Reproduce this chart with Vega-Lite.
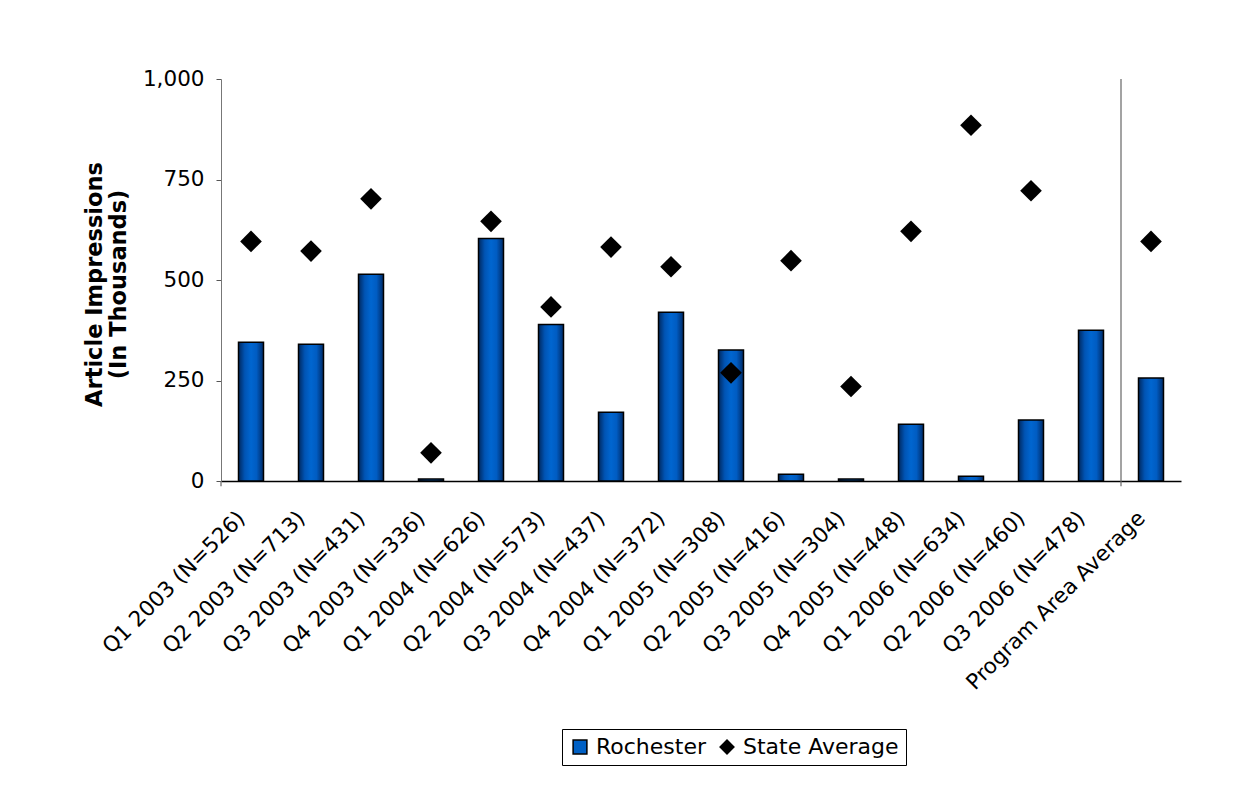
{
  "$schema": "https://vega.github.io/schema/vega-lite/v6.json",
  "width": 960,
  "height": 402,
  "autosize": {"type": "none"},
  "padding": {"left": 221, "top": 79, "right": 63, "bottom": 328},
  "background": "white",
  "config": {
    "font": "DejaVu Sans",
    "view": {"stroke": null},
    "axis": {"labelColor": "black", "titleColor": "black", "grid": false}
  },
  "layer": [
    {
      "data": {
        "values": [
          {"cat": "Q1 2003 (N=526)", "Rochester": 345, "State Average": 596},
          {"cat": "Q2 2003 (N=713)", "Rochester": 340, "State Average": 572},
          {"cat": "Q3 2003 (N=431)", "Rochester": 514, "State Average": 702},
          {"cat": "Q4 2003 (N=336)", "Rochester": 5, "State Average": 70},
          {"cat": "Q1 2004 (N=626)", "Rochester": 603, "State Average": 646},
          {"cat": "Q2 2004 (N=573)", "Rochester": 389, "State Average": 433},
          {"cat": "Q3 2004 (N=437)", "Rochester": 171, "State Average": 582},
          {"cat": "Q4 2004 (N=372)", "Rochester": 420, "State Average": 533},
          {"cat": "Q1 2005 (N=308)", "Rochester": 326, "State Average": 269},
          {"cat": "Q2 2005 (N=416)", "Rochester": 17, "State Average": 548},
          {"cat": "Q3 2005 (N=304)", "Rochester": 5, "State Average": 235},
          {"cat": "Q4 2005 (N=448)", "Rochester": 141, "State Average": 621},
          {"cat": "Q1 2006 (N=634)", "Rochester": 12, "State Average": 885},
          {"cat": "Q2 2006 (N=460)", "Rochester": 152, "State Average": 722},
          {"cat": "Q3 2006 (N=478)", "Rochester": 375, "State Average": null},
          {"cat": "Program Area Average", "Rochester": 256, "State Average": 596}
        ]
      },
      "transform": [{"fold": ["Rochester", "State Average"]}],
      "layer": [
        {
          "transform": [{"filter": "datum.key == 'Rochester'"}],
          "mark": {
            "type": "bar",
            "stroke": "black",
            "strokeWidth": 1.5,
            "color": {
              "x1": 0, "y1": 0, "x2": 1, "y2": 0,
              "gradient": "linear",
              "stops": [
                {"offset": 0, "color": "#00285e"},
                {"offset": 0.25, "color": "#0054b4"},
                {"offset": 0.5, "color": "#0066d0"},
                {"offset": 0.72, "color": "#005cc2"},
                {"offset": 1, "color": "#002a66"}
              ]
            }
          },
          "encoding": {
            "x": {
              "field": "cat",
              "type": "nominal",
              "sort": null,
              "scale": {"paddingInner": 0.5833, "paddingOuter": 0.2917},
              "axis": {
                "title": null,
                "labelAngle": -45,
                "labelAlign": "right",
                "labelBaseline": "middle",
                "labelFontSize": 21.5,
                "labelPadding": 34,
                "labelOffset": -9,
                "labelLimit": 0,
                "ticks": false,
                "domainColor": "black",
                "domainWidth": 1.5
              }
            },
            "y": {
              "field": "value",
              "type": "quantitative",
              "scale": {"domain": [0, 1000], "nice": false},
              "axis": {
                "title": ["Article Impressions", "(In Thousands)"],
                "values": [0, 250, 500, 750, 1000],
                "format": ",d",
                "labelFontSize": 21.5,
                "labelPadding": 12,
                "tickSize": 5,
                "tickColor": "#555",
                "domainColor": "#777",
                "titleFontSize": 22.5,
                "titleFontWeight": "bold",
                "titleAngle": -90,
                "titleAlign": "center",
                "titleBaseline": "middle",
                "titleLineHeight": 24,
                "titleX": -127,
                "titleY": 205
              }
            }
          }
        },
        {
          "transform": [{"filter": "datum.key == 'State Average' && datum.value != null"}],
          "mark": {"type": "point", "filled": true, "size": 470, "opacity": 1},
          "encoding": {
            "x": {"field": "cat", "type": "nominal", "sort": null},
            "y": {"field": "value", "type": "quantitative"},
            "color": {
              "field": "key",
              "type": "nominal",
              "scale": {"domain": ["Rochester", "State Average"], "range": ["#0060c4", "#000000"]},
              "legend": {
                "title": null,
                "orient": "none",
                "legendX": 341,
                "legendY": 650,
                "direction": "horizontal",
                "strokeColor": "black",
                "padding": 7,
                "labelFontSize": 22,
                "labelColor": "black",
                "symbolSize": 190,
                "symbolStrokeColor": "black",
                "symbolStrokeWidth": 1.5,
                "labelOffset": 5,
                "columnPadding": 10,
                "fillColor": "white"
              }
            },
            "shape": {
              "field": "key",
              "type": "nominal",
              "scale": {"domain": ["Rochester", "State Average"], "range": ["square", "diamond"]},
              "legend": {
                "title": null,
                "orient": "none",
                "legendX": 341,
                "legendY": 650,
                "direction": "horizontal",
                "strokeColor": "black",
                "padding": 7,
                "labelFontSize": 22,
                "labelColor": "black",
                "symbolSize": 190,
                "symbolStrokeColor": "black",
                "symbolStrokeWidth": 1.5,
                "labelOffset": 5,
                "columnPadding": 10,
                "fillColor": "white"
              }
            }
          }
        }
      ]
    },
    {
      "data": {
        "values": [
          {"pos": 15, "top": 1000, "bottom": -13},
          {"pos": 0, "top": 0, "bottom": -13}
        ]
      },
      "mark": {"type": "rule", "color": "#666", "strokeWidth": 1.2},
      "encoding": {
        "x": {"field": "pos", "type": "quantitative", "scale": {"domain": [0, 16]}, "axis": null},
        "y": {"field": "top", "type": "quantitative", "scale": {"domain": [0, 1000], "nice": false}},
        "y2": {"field": "bottom"}
      }
    }
  ],
  "resolve": {"scale": {"x": "independent"}}
}
